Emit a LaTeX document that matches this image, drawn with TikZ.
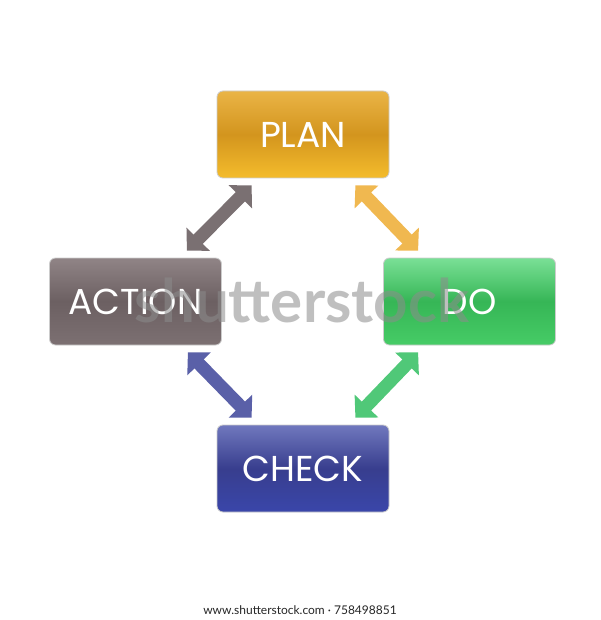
\documentclass[tikz,border=0pt]{standalone}
\usepackage{fontspec}
\setmainfont{Poppins}
\newfontfamily\footfont{Lato}
\usetikzlibrary{arrows.meta,calc}
\definecolor{planT}{HTML}{EAB446}
\definecolor{planM}{HTML}{D3951E}
\definecolor{planB}{HTML}{F4BC2C}
\definecolor{actT}{HTML}{908486}
\definecolor{actM}{HTML}{6C6062}
\definecolor{actB}{HTML}{7C7072}
\definecolor{doT}{HTML}{7AE096}
\definecolor{doM}{HTML}{36B656}
\definecolor{doB}{HTML}{46CC66}
\definecolor{chkT}{HTML}{7078BE}
\definecolor{chkM}{HTML}{383E8E}
\definecolor{chkB}{HTML}{3A46AA}
\definecolor{arGray}{HTML}{7A7072}
\definecolor{arOrange}{HTML}{F0B850}
\definecolor{arBlue}{HTML}{5A60A8}
\definecolor{arGreen}{HTML}{50C878}
\tikzset{
  box/.style={rectangle, rounded corners=6pt, minimum width=172pt, minimum height=87pt,
    inner sep=0pt, text=white, font=\fontsize{36}{36}\selectfont, draw=white!80!black, line width=0.8pt},
  dblarrow/.style={line width=13pt, {Triangle[width=32pt,length=16pt]}-{Triangle[width=32pt,length=16pt]}}
}
\begin{document}
\begin{tikzpicture}[x=1pt,y=-1pt]
\useasboundingbox (0,0) rectangle (600,620);
\fill[white] (0,0) rectangle (600,620);
\node[box, top color=planT, bottom color=planB, middle color=planM] (plan) at (303,134.5) {PLAN};
\node[box, top color=actT, bottom color=actB, middle color=actM] (action) at (135.5,301.5) {ACTION};
\node[box, top color=doT, bottom color=doB, middle color=doM] (do) at (469.5,301.5) {DO};
\node[box, top color=chkT, bottom color=chkB, middle color=chkM] (check) at (303,468.5) {CHECK};
\draw[dblarrow, arGray] ($(plan.south west)+(35,7)$) -- ($(action.north east)+(-35,-7)$);
\draw[dblarrow, arOrange] ($(plan.south east)+(-34,7)$) -- ($(do.north west)+(35,-7)$);
\draw[dblarrow, arBlue] ($(action.south east)+(-34,7)$) -- ($(check.north west)+(35,-7)$);
\draw[dblarrow, arGreen] ($(do.south west)+(35,7)$) -- ($(check.north east)+(-34,-7)$);
\node[anchor=base, text=black!45, opacity=0.55, font=\footfont\bfseries\fontsize{60}{60}\selectfont] (wm) at (302,322) {shutterstock};
\node[font=\footfont\fontsize{12}{12}\selectfont, text=black!85] (foot) at (300,610) {www.shutterstock.com · 758498851};
\end{tikzpicture}
\end{document}
